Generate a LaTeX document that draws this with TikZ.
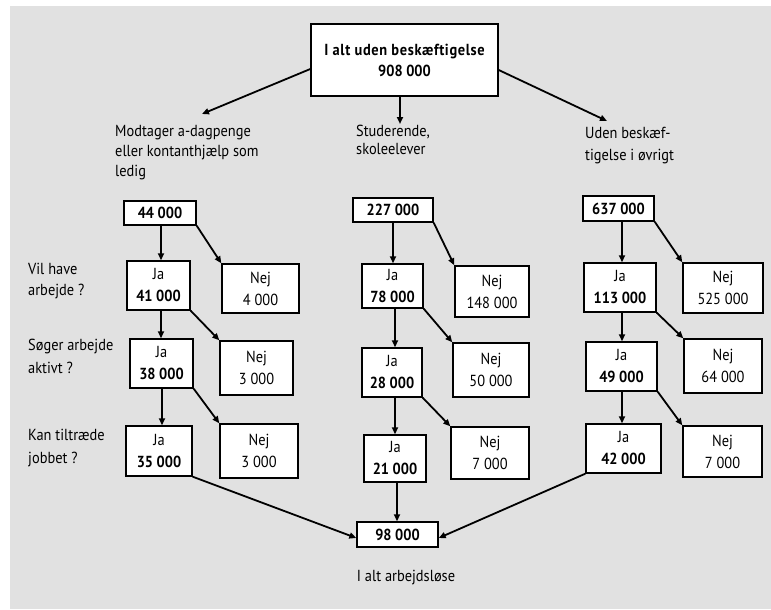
\documentclass[tikz,border=0pt]{standalone}
\usepackage{fontspec}
\setmainfont{PT Sans}[FakeStretch=0.9]
\usetikzlibrary{arrows.meta}
\definecolor{bggray}{HTML}{E1E1E1}
\begin{document}
\begin{tikzpicture}[x=1pt,y=-1pt,
  box/.style={draw=black, line width=1.4pt, fill=white, inner sep=0pt, align=center,
    font=\fontsize{16}{22}\selectfont},
  lbl/.style={inner sep=0pt, align=left, anchor=north west},
  arr/.style={line width=1.8pt, -{Triangle[length=7pt,width=6pt]}},
  lnk/.style={line width=1.8pt}]
\useasboundingbox (0,0) rectangle (771,610);
\fill[bggray] (10,6) rectangle (771,609);

% top
\node[box, minimum width=187pt, minimum height=72pt, font=\fontsize{16}{21}\selectfont\bfseries] (top) at (404.5,60) {{\addfontfeature{LetterSpace=4}I alt uden beskæftigelse}\\908 000};
\coordinate (catA) at (202,114);
\coordinate (catB) at (400,124);
\coordinate (catC) at (607,121);
\draw[arr] (top.west |- 0,69) -- (catA);
\draw[arr] (top.south -| catB) -- (catB);
\draw[arr] (top.east |- 0,70) -- (catC);

% category labels
\node[lbl, font=\fontsize{16}{20}\selectfont] (labA) at (115,125) {Modtager a-dagpenge\\eller kontanthjælp som\\ledig};
\node[lbl, font=\fontsize{16}{18}\selectfont] (labB) at (356,125) {Studerende,\\skoleelever};
\node[lbl, font=\fontsize{16}{22}\selectfont] (labC) at (585,127) {Uden beskæf-\\tigelse i øvrigt};

% question labels
\node[lbl, font=\fontsize{16}{21}\selectfont] (q1) at (28,263) {Vil have\\arbejde ?};
\node[lbl, font=\fontsize{16}{23}\selectfont] (q2) at (28,339) {Søger arbejde\\aktivt ?};
\node[lbl, font=\fontsize{16}{23}\selectfont] (q3) at (28,429) {Kan tiltræde\\jobbet ?};

% column 1
\node[box, minimum width=72pt, minimum height=24pt] (a0) at (160,213) {\textbf{44 000}};
\node[box, minimum width=63pt, minimum height=49pt] (a1) at (158.5,285.5) {Ja\\\textbf{41 000}};
\node[box, minimum width=77pt, minimum height=49pt] (a1n) at (260.5,288.5) {Nej\\4 000};
\node[box, minimum width=63pt, minimum height=49pt] (a2) at (161.5,363.5) {Ja\\\textbf{38 000}};
\node[box, minimum width=73pt, minimum height=54pt] (a2n) at (256.5,368) {Nej\\3 000};
\node[box, minimum width=66pt, minimum height=50pt] (a3) at (159,451) {Ja\\\textbf{35 000}};
\node[box, minimum width=78pt, minimum height=54pt] (a3n) at (259,451) {Nej\\3 000};

% column 2
\node[box, minimum width=80pt, minimum height=24pt] (b0) at (393,210) {\textbf{227 000}};
\node[box, minimum width=61pt, minimum height=44pt] (b1) at (392.5,286) {Ja\\\textbf{78 000}};
\node[box, minimum width=74pt, minimum height=51pt] (b1n) at (492,291.5) {Nej\\148 000};
\node[box, minimum width=60pt, minimum height=49pt] (b2) at (392,372.5) {Ja\\\textbf{28 000}};
\node[box, minimum width=76pt, minimum height=54pt] (b2n) at (491,370) {Nej\\50 000};
\node[box, minimum width=62pt, minimum height=47pt] (b3) at (395,458.5) {Ja\\\textbf{21 000}};
\node[box, minimum width=78pt, minimum height=52pt] (b3n) at (490,453) {Nej\\7 000};

% column 3
\node[box, minimum width=71pt, minimum height=25pt] (c0) at (618.5,208.5) {\textbf{637 000}};
\node[box, minimum width=72pt, minimum height=49pt] (c1) at (620,287.5) {Ja\\\textbf{113 000}};
\node[box, minimum width=80pt, minimum height=50pt] (c1n) at (723,288) {Nej\\525 000};
\node[box, minimum width=71pt, minimum height=49pt] (c2) at (621.5,366.5) {Ja\\\textbf{49 000}};
\node[box, minimum width=78pt, minimum height=54pt] (c2n) at (723,366) {Nej\\64 000};
\node[box, minimum width=75pt, minimum height=49pt] (c3) at (623.5,448.5) {Ja\\\textbf{42 000}};
\node[box, minimum width=79pt, minimum height=51pt] (c3n) at (722.5,451.5) {Nej\\7 000};

% total
\node[box, minimum width=81pt, minimum height=25pt] (tot) at (397.5,534.5) {\textbf{98 000}};
\node[inner sep=0pt, font=\fontsize{16}{20}\selectfont] (totl) at (406,578) {I alt arbejdsløse};

% arrows column 1
\draw[arr] (a0.south -| 161,0) -- (a1.north -| 161,0);
\draw[arr] (a1.south -| 161,0) -- (a2.north -| 161,0);
\draw[arr] (a2.south -| 162,0) -- (a3.north -| 162,0);
\draw[arr] (a0.south east) -- (a1n.north west);
\draw[arr] (a1.south east) -- (a2n.north west);
\draw[arr] (a2.south east) -- (a3n.north west);

% arrows column 2
\draw[arr] (b0.south -| 393,0) -- (b1.north -| 393,0);
\draw[arr] (b1.south -| 395,0) -- (b2.north -| 395,0);
\draw[arr] (b2.south -| 395,0) -- (b3.north -| 395,0);
\draw[arr] (b0.south east) -- (b1n.north west);
\draw[arr] (b1.south east) -- (b2n.north west);
\draw[arr] (b2.south east) -- (b3n.north west);

% arrows column 3
\draw[arr] (c0.south -| 622,0) -- (c1.north -| 622,0);
\draw[arr] (c1.south -| 622,0) -- (c2.north -| 622,0);
\draw[arr] (c2.south -| 622,0) -- (c3.north -| 622,0);
\draw[arr] (c0.south east) -- (c1n.north west);
\draw[arr] (c1.south east) -- (c2n.north west);
\draw[arr] (c2.south east) -- (c3n.north west);

% to total
\draw[arr] (a3.south east) -- (tot.west |- 0,538);
\draw[arr] (b3.south -| 397,0) -- (tot.north -| 397,0);
\draw[arr] (c3.south west) -- (tot.east |- 0,538);
\end{tikzpicture}
\end{document}
